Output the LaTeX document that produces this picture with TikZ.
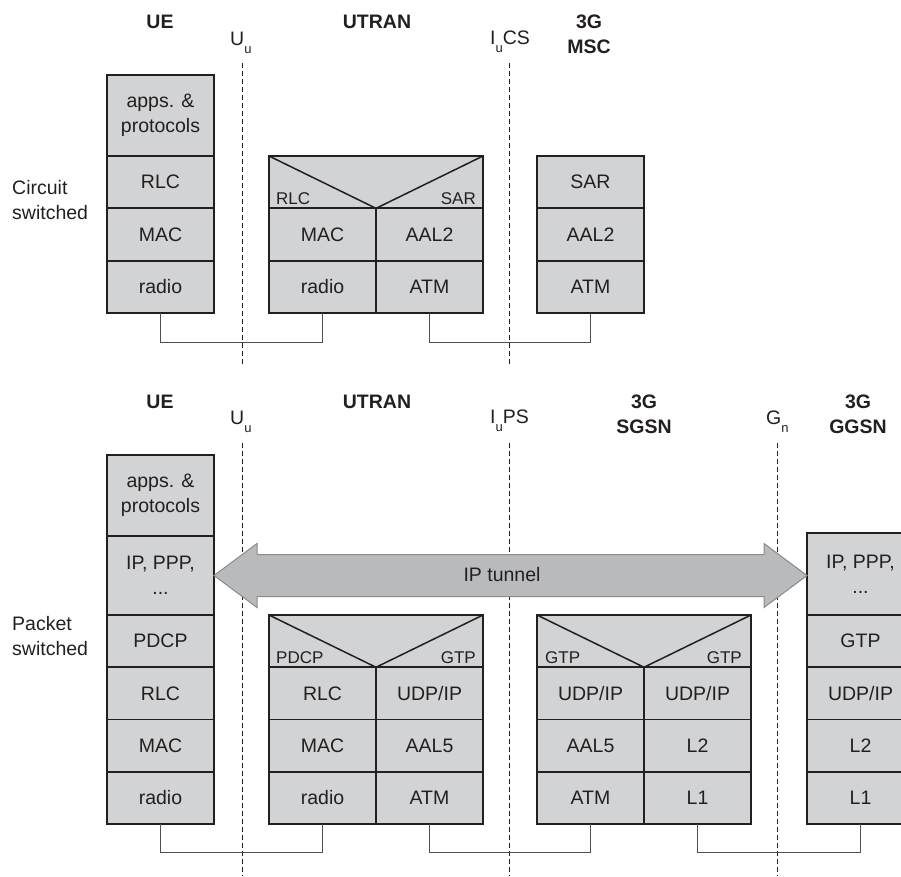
\documentclass[tikz,border=0pt]{standalone}
\usepackage{fontspec}
\setmainfont{Liberation Sans}
\usetikzlibrary{calc}
\definecolor{ink}{HTML}{231F20}
\definecolor{cellgray}{HTML}{D1D3D4}
\definecolor{arrowgray}{HTML}{B9BABC}
\definecolor{arrowline}{HTML}{8A8B8D}
\definecolor{connline}{HTML}{505050}
\newcommand\cellfnt{\fontsize{19.5}{25}\selectfont}
\newcommand\vlabfnt{\fontsize{17}{20}\selectfont}
\newcommand\subfnt{\fontsize{13}{14}\selectfont}
\newcommand\sub[1]{\raisebox{-8pt}{\subfnt #1}}
\begin{document}
\begin{tikzpicture}[x=1pt,y=-1pt,
  cell/.style={draw=ink, line width=1.7pt, fill=cellgray, inner sep=0pt, outer sep=0pt,
    minimum width=107pt, align=center, font=\cellfnt, text=ink},
  wcell/.style={cell, minimum width=214pt},
  vlab/.style={font=\vlabfnt, text=ink, inner sep=0pt},
  vline/.style={draw=ink, line width=1.5pt},
  iface/.style={draw=ink, line width=0.9pt, dash pattern=on 5pt off 3pt},
  iflab/.style={font=\cellfnt, text=ink, inner sep=0pt, anchor=base west},
  head/.style={font=\cellfnt\bfseries, text=ink, inner sep=0pt, align=center},
  side/.style={font=\cellfnt, text=ink, inner sep=0pt, align=left, anchor=west},
  conn/.style={draw=connline, line width=1pt},
  tunnel/.style={draw=arrowline, line width=1pt, fill=arrowgray}]
\useasboundingbox (0,0) rectangle (901,876);

% ---------------- Circuit switched ----------------
\node[head, anchor=base] (hUE1) at (160,28) {UE};
\node[head, anchor=base] (hUT1) at (377,28) {UTRAN};
\node[head, anchor=north] (hMSC) at (589,15) {3G\\MSC};
\node[iflab] (lUu1) at (230,45) {U\sub{u}};
\node[iflab] (lIuCS) at (490,44) {I\sub{u}CS};
\node[side] (lCS) at (12,200.5) {Circuit\\switched};

\coordinate (uu1a) at (242,63); \coordinate (uu1b) at (242,365);
\coordinate (iucsA) at (509,63); \coordinate (iucsB) at (509,365);
\draw[iface] (uu1a) -- (uu1b);
\draw[iface] (iucsA) -- (iucsB);

% UE
\node[cell, minimum height=81pt] (ueApps1) at (160.5,115.5) {apps. \&\\protocols};
\node[cell, minimum height=52.33pt] (ueRLC1) at (160.5,182.17) {RLC};
\node[cell, minimum height=52.33pt] (ueMAC1) at (160.5,234.5) {MAC};
\node[cell, minimum height=52.33pt] (ueRadio1) at (160.5,286.83) {radio};
% UTRAN
\node[wcell, minimum height=52.33pt] (utV1) at (376,182.17) {};
\draw[vline] (utV1.north west) -- (utV1.south) -- (utV1.north east);
\node[vlab, anchor=base west] (utV1l) at ($(utV1.south west)+(7,-4)$) {RLC};
\node[vlab, anchor=base east] (utV1r) at ($(utV1.south east)+(-7,-4)$) {SAR};
\node[cell, minimum height=52.33pt] (utMAC1) at (322.5,234.5) {MAC};
\node[cell, minimum height=52.33pt] (utAAL21) at (429.5,234.5) {AAL2};
\node[cell, minimum height=52.33pt] (utRadio1) at (322.5,286.83) {radio};
\node[cell, minimum height=52.33pt] (utATM1) at (429.5,286.83) {ATM};
% MSC
\node[cell, minimum height=52.33pt] (mscSAR) at (590.5,182.17) {SAR};
\node[cell, minimum height=52.33pt] (mscAAL2) at (590.5,234.5) {AAL2};
\node[cell, minimum height=52.33pt] (mscATM) at (590.5,286.83) {ATM};

\draw[conn] (ueRadio1.south) -- ++(0,29) -| (utRadio1.south);
\draw[conn] (utATM1.south) -- ++(0,29) -| (mscATM.south);

% ---------------- Packet switched ----------------
\node[head, anchor=base] (hUE2) at (160,408) {UE};
\node[head, anchor=base] (hUT2) at (377,408) {UTRAN};
\node[head, anchor=north] (hSGSN) at (644,395) {3G\\SGSN};
\node[head, anchor=north] (hGGSN) at (858,395) {3G\\GGSN};
\node[iflab] (lUu2) at (230,424) {U\sub{u}};
\node[iflab] (lIuPS) at (490,423) {I\sub{u}PS};
\node[iflab] (lGn) at (766,424) {G\sub{n}};
\node[side] (lPS) at (12,636) {Packet\\switched};

\coordinate (uu2a) at (242,443); \coordinate (uu2b) at (242,876);
\coordinate (iupsA) at (509,443); \coordinate (iupsB) at (509,876);
\coordinate (gnA) at (777,443); \coordinate (gnB) at (777,876);
\draw[iface] (uu2a) -- (uu2b);
\draw[iface] (iupsA) -- (iupsB);
\draw[iface] (gnA) -- (gnB);

% UE
\node[cell, minimum height=81pt] (ueApps2) at (160.5,495.5) {apps. \&\\protocols};
\node[cell, minimum height=79pt] (ueIP) at (160.5,575.5) {IP, PPP,\\...};
\node[cell, minimum height=52.25pt] (uePDCP) at (160.5,641.125) {PDCP};
\node[cell, minimum height=52.25pt] (ueRLC2) at (160.5,693.375) {RLC};
\node[cell, minimum height=52.25pt] (ueMAC2) at (160.5,745.625) {MAC};
\node[cell, minimum height=52.25pt] (ueRadio2) at (160.5,797.875) {radio};
% UTRAN
\node[wcell, minimum height=52.25pt] (utV2) at (376,641.125) {};
\draw[vline] (utV2.north west) -- (utV2.south) -- (utV2.north east);
\node[vlab, anchor=base west] (utV2l) at ($(utV2.south west)+(7,-4)$) {PDCP};
\node[vlab, anchor=base east] (utV2r) at ($(utV2.south east)+(-7,-4)$) {GTP};
\node[cell, minimum height=52.25pt] (utRLC2) at (322.5,693.375) {RLC};
\node[cell, minimum height=52.25pt] (utUDP2) at (429.5,693.375) {UDP/IP};
\node[cell, minimum height=52.25pt] (utMAC2) at (322.5,745.625) {MAC};
\node[cell, minimum height=52.25pt] (utAAL52) at (429.5,745.625) {AAL5};
\node[cell, minimum height=52.25pt] (utRadio2) at (322.5,797.875) {radio};
\node[cell, minimum height=52.25pt] (utATM2) at (429.5,797.875) {ATM};
% SGSN
\node[wcell, minimum height=52.25pt] (sgV) at (644,641.125) {};
\draw[vline] (sgV.north west) -- (sgV.south) -- (sgV.north east);
\node[vlab, anchor=base west] (sgVl) at ($(sgV.south west)+(8,-4)$) {GTP};
\node[vlab, anchor=base east] (sgVr) at ($(sgV.south east)+(-9,-4)$) {GTP};
\node[cell, minimum height=52.25pt] (sgUDPl) at (590.5,693.375) {UDP/IP};
\node[cell, minimum height=52.25pt] (sgUDPr) at (697.5,693.375) {UDP/IP};
\node[cell, minimum height=52.25pt] (sgAAL5) at (590.5,745.625) {AAL5};
\node[cell, minimum height=52.25pt] (sgL2) at (697.5,745.625) {L2};
\node[cell, minimum height=52.25pt] (sgATM) at (590.5,797.875) {ATM};
\node[cell, minimum height=52.25pt] (sgL1) at (697.5,797.875) {L1};
% GGSN
\node[cell, minimum height=82pt] (ggIP) at (860.5,574) {IP, PPP,\\...};
\node[cell, minimum height=52.25pt] (ggGTP) at (860.5,641.125) {GTP};
\node[cell, minimum height=52.25pt] (ggUDP) at (860.5,693.375) {UDP/IP};
\node[cell, minimum height=52.25pt] (ggL2) at (860.5,745.625) {L2};
\node[cell, minimum height=52.25pt] (ggL1) at (860.5,797.875) {L1};

% IP tunnel
\coordinate (tl) at (ueIP.east);
\coordinate (tr) at (ggIP.west |- ueIP.east);
\draw[tunnel] (tl) -- ($(tl)+(43,-32)$) -- ($(tl)+(43,-21)$) -- ($(tr)+(-43,-21)$)
  -- ($(tr)+(-43,-32)$) -- (tr) -- ($(tr)+(-43,32)$) -- ($(tr)+(-43,21)$)
  -- ($(tl)+(43,21)$) -- ($(tl)+(43,32)$) -- cycle;
\node[font=\cellfnt, text=ink, inner sep=0pt] (tunnelLab) at (502,575) {IP tunnel};

\draw[conn] (ueRadio2.south) -- ++(0,28) -| (utRadio2.south);
\draw[conn] (utATM2.south) -- ++(0,28) -| (sgATM.south);
\draw[conn] (sgL1.south) -- ++(0,28) -| (ggL1.south);
\end{tikzpicture}
\end{document}
